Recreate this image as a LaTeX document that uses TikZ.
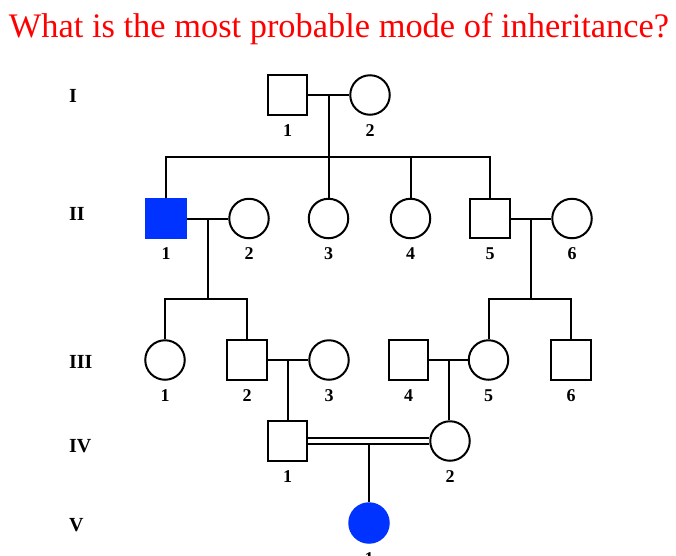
\documentclass[tikz,border=0pt]{standalone}
\usepackage{fontspec}
\setmainfont{Liberation Serif}
\usetikzlibrary{calc}
\definecolor{Affected}{HTML}{0033FF}
\definecolor{TitleRed}{HTML}{FF0000}

\begin{document}
\begin{tikzpicture}[
    x=1pt, y=-1pt,
    line width=2pt,
    every node/.style={font=\bfseries\fontsize{18}{20}\selectfont},
    every label/.style={inner sep=0pt, yshift=-7.5pt},
    male/.style={draw, rectangle, minimum size=39.5pt, inner sep=0pt,
                 label={below:#1}},
    female/.style={draw, circle, minimum size=39.5pt, inner sep=0pt,
                   label={below:#1}},
    affected/.style={fill=Affected, draw=Affected},
    gen/.style={anchor=west, inner sep=0pt,
                font=\bfseries\fontsize{20}{22}\selectfont},
    cousins/.style={double, double distance=4pt},
  ]
    \useasboundingbox (0,0) rectangle (676,555);

    \node[anchor=base west, inner sep=0pt, text=TitleRed,
          font=\fontsize{34.4}{40}\selectfont] (title) at (8,37)
      {What is the most probable mode of inheritance?};

    % generation labels
    \node[gen] (genI)   at (68,96)  {I};
    \node[gen] (genII)  at (68,214) {II};
    \node[gen] (genIII) at (68,362) {III};
    \node[gen] (genIV)  at (68,446) {IV};
    \node[gen] (genV)   at (68,525) {V};

    % I
    \node[male=1]   (a1) at (287.5,95) {};
    \node[female=2] (a2) at (370,95)   {};
    % II
    \node[male=1, affected] (b1) at (166,218.5)   {};
    \node[female=2]         (b2) at (249,218.5)   {};
    \node[female=3]         (b3) at (328.5,218.5) {};
    \node[female=4]         (b4) at (410.5,218.5) {};
    \node[male=5]           (b5) at (490,218.5)   {};
    \node[female=6]         (b6) at (572,218.5)   {};
    % III
    \node[female=1] (c1) at (165,360)   {};
    \node[male=2]   (c2) at (247,360)   {};
    \node[female=3] (c3) at (329,360)   {};
    \node[male=4]   (c4) at (408.5,360) {};
    \node[female=5] (c5) at (488.5,360) {};
    \node[male=6]   (c6) at (571,360)   {};
    % IV
    \node[male=1]   (d1) at (287.5,441) {};
    \node[female=2] (d2) at (450,441)   {};
    % V
    \node[female=1, affected] (e1) at (369,523) {};

    % I -> II
    \draw (a1) -- (a2);
    \coordinate (m1) at ($(a1.east)!0.5!(a2.west)$);
    \coordinate (s1) at (m1 |- 0,157);
    \draw (m1) -- (s1);
    \draw (b1) |- (s1) -| (b5);
    \draw (b3) -- (b3 |- s1);
    \draw (b4) -- (b4 |- s1);

    % II -> III
    \draw (b1) -- (b2);
    \coordinate (m2) at ($(b1.east)!0.5!(b2.west)$);
    \coordinate (s2) at (m2 |- 0,299);
    \draw (m2) -- (s2);
    \draw (c1) |- (s2) -| (c2);

    \draw (b5) -- (b6);
    \coordinate (m3) at ($(b5.east)!0.5!(b6.west)$);
    \coordinate (s3) at (m3 |- 0,299);
    \draw (m3) -- (s3);
    \draw (c5) |- (s3) -| (c6);

    % III -> IV
    \draw (c2) -- (c3);
    \coordinate (m4) at ($(c2.east)!0.5!(c3.west)$);
    \draw (m4) -- (m4 |- d1.north);

    \draw (c4) -- (c5);
    \coordinate (m5) at ($(c4.east)!0.5!(c5.west)$);
    \draw (m5) -- (m5 |- d2.north);

    % IV -> V
    \coordinate (m6) at ($(d1.east)!0.5!(d2.west)$);
    \draw (m6) -- (m6 |- e1.north);
    \draw[cousins] (d1) -- (d2);
  \end{tikzpicture}
\end{document}
